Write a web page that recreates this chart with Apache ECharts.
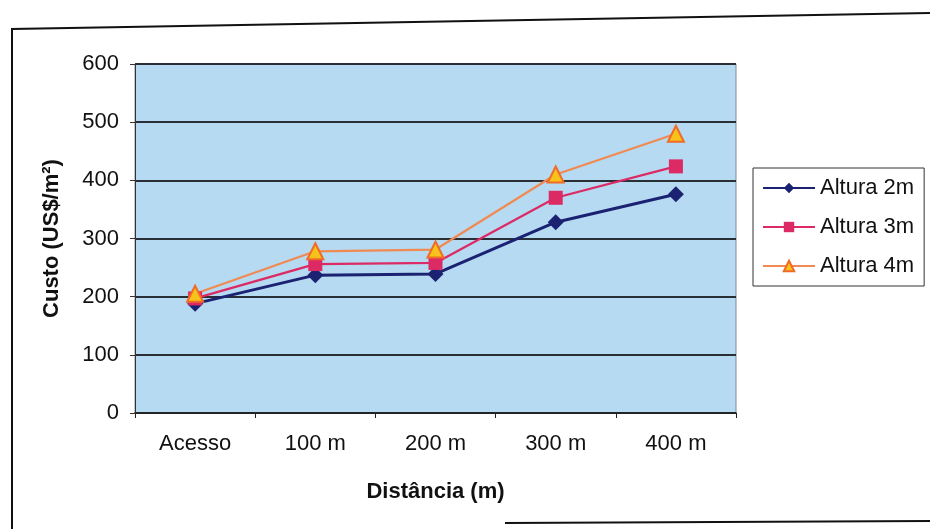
<!DOCTYPE html>
<html>
<head>
<meta charset="utf-8">
<script src="https://cdn.jsdelivr.net/npm/echarts@6/dist/echarts.min.js"></script>
<style>
  html, body { margin: 0; padding: 0; background: #ffffff; }
  #chart { width: 930px; height: 529px; }
</style>
</head>
<body>
<div id="chart"></div>
<script>
// Cost per square metre by distance, for three wall heights
const categories = ['Acesso', '100 m', '200 m', '300 m', '400 m'];
const altura2m = [188, 237, 239, 328, 376];
const altura3m = [197, 256, 258, 370, 424];
const altura4m = [205, 278, 281, 410, 480];
const yTicks = [0, 100, 200, 300, 400, 500, 600];

const chart = echarts.init(document.getElementById('chart'));
const font = 'Liberation Sans, Arial, sans-serif';

function lineSeries(name, data, color, symbol, size, markerStyle, width) {
  return {
    name: name,
    type: 'line',
    data: data,
    symbol: symbol,
    symbolSize: size,
    showSymbol: true,
    lineStyle: { color: color, width: width },
    itemStyle: Object.assign({ color: color }, markerStyle),
    z: 3
  };
}

chart.setOption({
  animation: false,
  backgroundColor: '#ffffff',
  textStyle: { fontFamily: font },
  grid: {
    left: 135, right: 194, top: 64, bottom: 116,
    show: true,
    backgroundColor: '#b6daf1',
    borderColor: '#7f8c99',
    borderWidth: 1
  },
  legend: {
    orient: 'vertical',
    left: 753, top: 168,
    padding: [9, 10, 9, 9],
    itemGap: 17,
    itemWidth: 52,
    itemHeight: 13,
    borderColor: '#333333',
    borderWidth: 1,
    backgroundColor: '#ffffff',
    textStyle: { fontSize: 22, color: '#111111', fontFamily: font },
    data: ['Altura 2m', 'Altura 3m', 'Altura 4m']
  },
  xAxis: {
    type: 'category',
    data: categories,
    boundaryGap: true,
    name: 'Distância (m)',
    nameLocation: 'middle',
    nameGap: 68,
    nameTextStyle: { fontSize: 22, fontWeight: 'bold', color: '#111111', fontFamily: font },
    axisLine: { lineStyle: { color: '#222222', width: 1.5 } },
    axisTick: { show: true, length: 5, alignWithLabel: false, lineStyle: { color: '#222222' } },
    axisLabel: { fontSize: 22, color: '#111111', margin: 20, fontFamily: font },
    splitLine: { show: false }
  },
  yAxis: {
    type: 'value',
    min: yTicks[0],
    max: yTicks[yTicks.length - 1],
    interval: yTicks[1] - yTicks[0],
    name: 'Custo (US$/m²)',
    nameLocation: 'middle',
    nameGap: 72,
    nameRotate: 90,
    nameTextStyle: { fontSize: 22, fontWeight: 'bold', color: '#111111', fontFamily: font },
    axisLine: { show: true, lineStyle: { color: '#333333', width: 1 } },
    axisTick: { show: true, length: 5, lineStyle: { color: '#333333' } },
    axisLabel: { fontSize: 22, color: '#111111', margin: 16, fontFamily: font },
    splitLine: { show: true, lineStyle: { color: '#2a2f36', width: 2 } }
  },
  series: [
    lineSeries('Altura 2m', altura2m, '#1b2272', 'diamond', 16, {}, 3),
    lineSeries('Altura 3m', altura3m, '#dc2a64', 'rect', 14, {}, 2.2),
    lineSeries('Altura 4m', altura4m, '#f08a52', 'triangle', 16,
      { color: '#f7c21a', borderColor: '#f06a28', borderWidth: 2 }, 2.2)
  ],
  graphic: [
    {
      // chart frame
      type: 'polyline',
      shape: { points: [[12, 529], [12, 29], [930, 13]] },
      style: { stroke: '#111111', lineWidth: 2, fill: null },
      silent: true
    },
    {
      type: 'line',
      shape: { x1: 505, y1: 523, x2: 930, y2: 521 },
      style: { stroke: '#111111', lineWidth: 2 },
      silent: true
    }
  ]
});
</script>
</body>
</html>
